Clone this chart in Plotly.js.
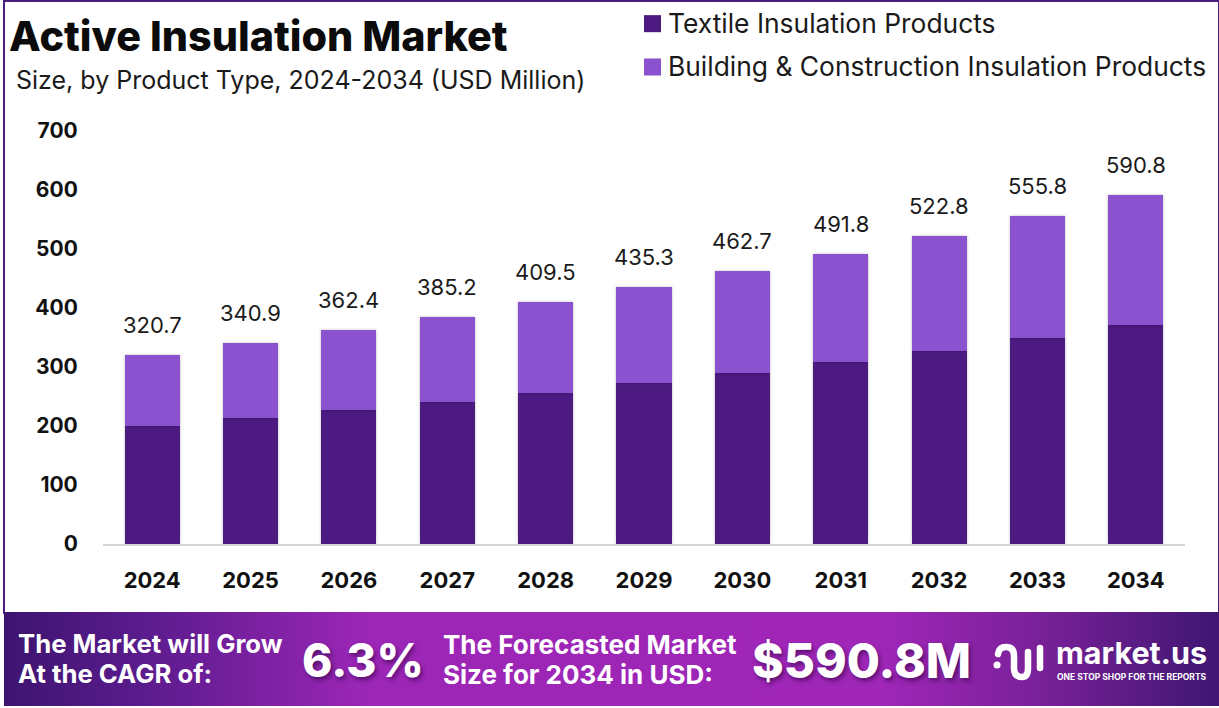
<!DOCTYPE html>
<html><head><meta charset="utf-8">
<script src="https://cdn.plot.ly/plotly-3.0.1.min.js"></script>
<style>
html,body{margin:0;padding:0;background:#fff;}
#wrap{position:relative;width:1219px;height:708px;overflow:hidden;background:#fff;}
#band{position:absolute;left:4px;top:612px;width:1215px;height:94px;background:linear-gradient(90deg,#3d1470 0%,#5c1c8e 12%,#9c26b6 30%,#a026b8 72%,#7a2199 85%,#3f1672 100%);}
#frame{position:absolute;left:3px;top:0;width:1213px;height:612px;border:solid #4a1f7c;border-width:2px 2px 0 2px;box-sizing:content-box;}
#chart{position:absolute;left:0;top:0;width:1219px;height:708px;}
.shapelayer path{stroke-linecap:round;stroke-linejoin:round;}
.bars .point path{filter:drop-shadow(0 0 1.5px rgba(0,0,0,.25));}
</style></head><body>
<div id="wrap"><div id="band"></div><div id="frame"></div><div id="chart"></div></div>
<script>
const years=['2024','2025','2026','2027','2028','2029','2030','2031','2032','2033','2034'];
const textile=[200,213.5,227,241,256,273,290,308,327,349,371];
const totals=[320.7,340.9,362.4,385.2,409.5,435.3,462.7,491.8,522.8,555.8,590.8];
const building=[120.7,127.4,135.4,144.2,153.5,162.3,172.7,183.8,195.8,206.8,219.8];
const yTicks=[0,100,200,300,400,500,600,700];
const FONT='Inter, "Noto Sans", sans-serif';
const W=1219,H=708,L=103,R=1185,T=131,B=544;
const px=x=>(x-L)/(R-L), py=y=>(B-y)/(B-T);
function txt(text,x,y,size,weight,color,anchor,shadow){
  return {text,x:px(x-3),y:py(y),xref:'paper',yref:'paper',showarrow:false,xanchor:anchor||'left',yanchor:'middle',align:'left',
    font:{family:FONT,size,weight:weight||400,color:color||'#111',shadow:shadow||'none'}};
}
const traces=[
 {type:'bar',name:'Textile Insulation Products',legendgroup:'a',x:years,y:textile,marker:{color:'#4d1a82'},hoverinfo:'y'},
 {type:'bar',name:'Building &amp; Construction Insulation Products',legendgroup:'b',x:years,y:building,marker:{color:'#8a52cf'},hoverinfo:'y'}
];
const shadow='2px 3px 4px rgba(40,0,60,.55)';
const totalLabels=years.map((yr,i)=>({x:i,y:totals[i],xref:'x',yref:'y',text:totals[i].toFixed(1),showarrow:false,yanchor:'middle',yshift:30,
  font:{family:FONT,size:22,color:'#1a1a1a'}}));
const logoLine={color:'#fff',width:6.5};
const P=(x,y)=>px(x)+' '+py(y);
const layout={
 width:W,height:H,margin:{l:L,r:W-R,t:T,b:H-B,autoexpand:false},autosize:false,
 paper_bgcolor:'rgba(0,0,0,0)',plot_bgcolor:'rgba(0,0,0,0)',
 barmode:'stack',bargap:0.44,showlegend:true,
 legend:{x:px(628),y:py(-1),xanchor:'left',yanchor:'top',traceorder:'grouped',tracegroupgap:6,itemwidth:30,
   font:{family:FONT,size:26.4,color:'#1a1a1a'},bgcolor:'rgba(0,0,0,0)',itemclick:false,itemdoubleclick:false},
 xaxis:{type:'category',categoryorder:'array',categoryarray:years,range:[-0.5,10.5],showgrid:false,zeroline:false,showline:true,linecolor:'#d4d4d4',linewidth:1.5,ticks:'outside',ticklen:16,tickcolor:'rgba(0,0,0,0)',
   tickfont:{family:FONT,size:22,weight:700,color:'#111'},automargin:false},
 yaxis:{range:[0,700],tickvals:yTicks,ticktext:yTicks.map(String),showgrid:false,zeroline:false,showline:false,ticks:'outside',ticklen:20,tickcolor:'rgba(0,0,0,0)',
   tickfont:{family:FONT,size:21,weight:700,color:'#111'},automargin:false},
 annotations:totalLabels.concat([
  txt('Active Insulation Market',10,36,41.3,800,'#0b0b0b'),
  txt('Size, by Product Type, 2024-2034 (USD Million)',17,80,25,400,'#1a1a1a'),
  txt('The Market will Grow',19,643,25.7,700,'#fff'),
  txt('At the CAGR of:',19,673,25.7,700,'#fff'),
  txt('6.3%',303,660,46,800,'#fff','left',shadow),
  txt('The Forecasted Market',444,644,26,700,'#fff'),
  txt('Size for 2034 in USD:',444,674,26,700,'#fff'),
  txt('$590.8M',753,660,48,800,'#fff','left',shadow),
  txt('market.us',1057,652,30.5,700,'#fff'),
  txt('ONE STOP SHOP FOR THE REPORTS',1058,677,8.5,700,'#fff')
 ]),
 shapes:[
  {type:'path',xref:'paper',yref:'paper',line:logoLine,path:'M'+P(998,654)+'Q'+P(999,647)+' '+P(1006,647)+'Q'+P(1014,647)+' '+P(1014,656)+'L'+P(1014,668)+'Q'+P(1014,677)+' '+P(1022,677)+'Q'+P(1028,677)+' '+P(1028,668)+'L'+P(1028,652)},
  {type:'path',xref:'paper',yref:'paper',line:logoLine,path:'M'+P(1040,648)+'L'+P(1040,668)},
  {type:'path',xref:'paper',yref:'paper',line:{color:'#fff',width:7},path:'M'+P(997,665)+'L'+P(997.1,665)}
 ]
};
Plotly.newPlot('chart',traces,layout,{displayModeBar:false,responsive:false}).then(gd=>{
  gd.querySelectorAll('.legendpoints path').forEach(p=>p.setAttribute('transform','translate(24.5,1) scale(1.42,1.42)'));
});
</script></body></html>
